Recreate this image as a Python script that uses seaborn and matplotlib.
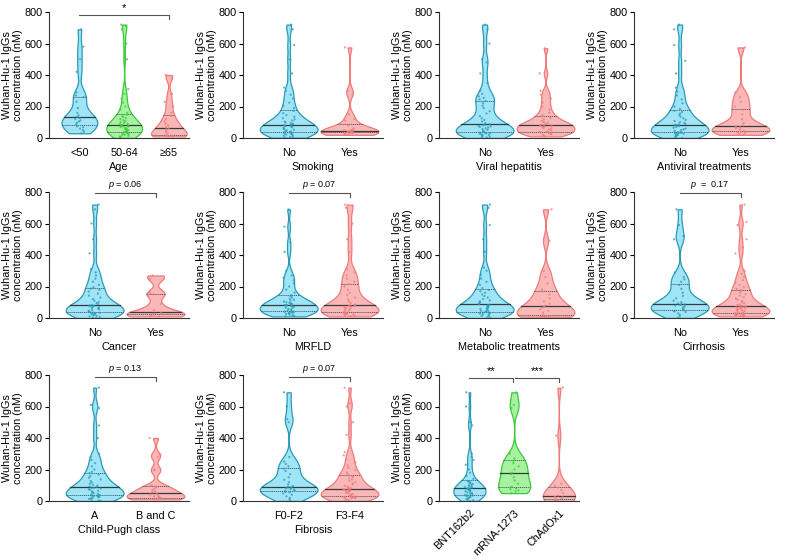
import numpy as np
import pandas as pd
import seaborn as sns
import matplotlib.pyplot as plt

# values (nM)
age_lt50 = [30, 40, 50, 60, 68, 73, 85, 95, 105, 112, 120, 127, 135, 145, 160, 190, 230, 260, 270, 290, 420, 500, 580, 690]
age_50_64 = [0, 5, 9, 13, 17, 21, 25, 28, 31, 34, 36, 38, 42, 46, 50, 54, 58, 62, 66, 70, 73, 76, 78, 79,
             83, 87, 91, 96, 101, 107, 113, 120, 127, 134, 141, 148, 160, 180, 200, 225, 250, 280, 310, 500, 600, 690, 710, 720]
age_ge65 = [10, 11, 12, 13, 14, 15, 20, 30, 40, 48, 56, 62, 70, 80, 92, 105, 120, 140, 160, 200, 230, 280, 380, 400]

smoke_no = [2, 6, 10, 14, 18, 22, 25, 28, 31, 34, 36, 38, 42, 45, 48, 52, 56, 60, 64, 68, 72, 76, 80, 83,
            87, 90, 94, 98, 104, 110, 118, 126, 135, 145, 158, 172, 190, 205, 225, 250, 275, 300, 320, 410, 500, 590, 690, 720]
smoke_yes = [20, 24, 27, 30, 32, 34, 36, 38, 40, 41, 43, 44, 46, 48, 50, 55, 62, 80, 112, 120, 150, 280, 300, 575]

hep_no = [0, 4, 8, 12, 16, 20, 23, 26, 29, 31, 33, 34, 38, 42, 47, 52, 57, 62, 66, 70, 74, 78, 81, 84,
          88, 95, 105, 115, 125, 140, 155, 170, 190, 205, 220, 235, 245, 255, 265, 280, 300, 350, 410, 480, 500, 600, 690, 720]
hep_yes = [10, 15, 20, 25, 28, 31, 34, 36, 38, 39, 42, 48, 54, 60, 64, 68, 71, 74, 77, 79,
           82, 85, 88, 92, 96, 102, 110, 118, 126, 136, 145, 160, 180, 200, 225, 250, 275, 300, 410, 570]

antiv_no = [0, 5, 10, 14, 18, 22, 25, 28, 30, 32, 33, 34, 37, 40, 45, 50, 55, 60, 65, 70, 75, 79, 82, 84,
            87, 90, 95, 100, 108, 115, 125, 135, 145, 155, 165, 172, 185, 200, 220, 245, 270, 295, 320, 410, 490, 590, 690, 720]
antiv_yes = [20, 28, 33, 37, 39, 45, 55, 62, 68, 73, 80, 95, 120, 150, 180, 200, 230, 260, 290, 575]

cancer_no = [0, 3, 7, 11, 15, 19, 23, 26, 29, 31, 33, 34, 38, 42, 46, 50, 55, 60, 64, 68, 72, 75, 77, 79,
             83, 88, 95, 102, 110, 120, 130, 142, 155, 168, 178, 186, 195, 210, 230, 250, 270, 290, 310, 410, 500, 600, 690, 720]
cancer_yes = [10, 15, 20, 25, 28, 32, 50, 90, 150, 160, 250, 270]

mrfld_no = [10, 14, 18, 22, 26, 29, 32, 34, 36, 38, 39, 40, 44, 48, 52, 57, 62, 66, 70, 74, 77, 80, 82, 83,
            86, 89, 92, 96, 100, 105, 110, 116, 122, 130, 138, 145, 160, 180, 200, 220, 240, 255, 270, 300, 420, 480, 580, 690]
mrfld_yes = [10, 14, 18, 22, 25, 28, 30, 32, 33, 34, 40, 46, 52, 58, 63, 67, 71, 74, 77, 79,
             85, 95, 105, 118, 130, 145, 160, 180, 200, 215, 230, 250, 270, 290, 310, 420, 500, 600, 700, 720]

metab_no = [0, 5, 10, 15, 19, 23, 27, 30, 33, 35, 37, 39, 42, 46, 50, 54, 58, 62, 66, 70, 74, 78, 81, 84,
            88, 92, 98, 105, 112, 120, 130, 140, 150, 160, 170, 178, 190, 210, 230, 250, 275, 300, 320, 420, 500, 590, 700, 720]
metab_yes = [8, 9, 10, 10, 11, 12, 20, 35, 45, 55, 65, 72, 80, 90, 105, 125, 150, 170, 180, 220, 260, 300, 490, 690]

cirr_no = [0, 10, 20, 30, 38, 42, 46, 49, 55, 62, 68, 74, 79, 83, 86, 87,
           92, 100, 110, 125, 140, 160, 185, 210, 230, 245, 260, 290, 500, 520, 590, 690]
cirr_yes = [10, 12, 14, 16, 18, 20, 22, 24, 25, 26, 27, 28, 29, 30, 33, 37, 41, 45, 49, 53, 57, 60, 63, 66, 69, 71, 73, 74,
            78, 82, 87, 93, 100, 108, 116, 124, 133, 142, 152, 162, 170, 178, 185, 195, 210, 225, 240, 260, 280, 300, 410, 450, 500, 590, 610, 720]

cp_a = [0, 4, 9, 13, 17, 21, 24, 27, 30, 32, 33, 34, 38, 42, 46, 50, 55, 60, 65, 70, 75, 79, 82, 84,
        88, 92, 97, 103, 110, 118, 127, 137, 148, 158, 168, 176, 185, 200, 220, 240, 260, 280, 300, 400, 480, 590, 610, 720]
cp_bc = [10, 12, 14, 16, 18, 19, 22, 26, 30, 36, 42, 48, 55, 62, 70, 78, 86, 92, 100, 195, 200, 280, 295, 400]

fib_f0f2 = [0, 10, 20, 30, 40, 48, 54, 58, 64, 68, 72, 76, 80, 84, 87, 89,
            95, 105, 120, 135, 150, 170, 190, 205, 220, 235, 250, 280, 500, 520, 600, 690]
fib_f3f4 = [0, 5, 9, 12, 15, 18, 20, 22, 24, 25, 26, 27, 28, 29, 32, 36, 40, 44, 48, 52, 56, 60, 63, 66, 69, 71, 73, 74,
            78, 82, 86, 92, 98, 105, 112, 120, 128, 136, 144, 152, 158, 163, 170, 180, 195, 210, 225, 245, 265, 290, 310, 420, 500, 600, 620, 720]

vac_bnt = [0, 5, 9, 13, 17, 21, 25, 28, 31, 34, 36, 38, 42, 46, 50, 54, 58, 62, 66, 70, 73, 76, 78, 79,
           82, 85, 88, 92, 96, 100, 104, 108, 113, 118, 123, 128, 140, 160, 180, 200, 230, 260, 280, 300, 480, 500, 600, 690]
vac_mrna = [50, 60, 68, 75, 79, 90, 110, 130, 150, 170, 180, 200, 220, 240, 255, 270, 300, 590, 610, 690]
vac_chad = [0, 3, 6, 9, 12, 18, 24, 28, 35, 50, 70, 85, 95, 110, 415, 720]

BLUE = ("#9fe4f7", "#2a9ab6")
GREEN = ("#a6f2a0", "#3cc83c")
RED = ("#f9b7b7", "#f07a7a")

plt.rcParams['font.family'] = ['Liberation Sans', 'DejaVu Sans']
plt.rcParams['mathtext.fontset'] = 'custom'
plt.rcParams['mathtext.it'] = 'Liberation Sans:italic'
plt.rcParams['mathtext.rm'] = 'Liberation Sans'


def violin_panel(ax, groups, names, cols, xlabel, vw=0.95, rotate=False):
    df = pd.DataFrame({
        "grp": np.concatenate([[n] * len(g) for n, g in zip(names, groups)]),
        "val": np.concatenate(groups),
    })
    fills = {n: c[0] for n, c in zip(names, cols)}
    edges = {n: c[1] for n, c in zip(names, cols)}
    sns.violinplot(data=df, x="grp", y="val", hue="grp", order=names, hue_order=names,
                   palette=fills, saturation=1, cut=0, bw_adjust=0.45, density_norm="area",
                   width=vw, inner="quart", linewidth=0.9, legend=False, ax=ax,
                   inner_kws=dict(color="#3d4a4f", linewidth=0.7))
    for coll, n in zip(ax.collections, names):
        coll.set_edgecolor(edges[n])
        coll.set_alpha(None)
    for i, ln in enumerate(ax.lines):
        if i % 3 == 1:
            ln.set_linestyle("-")
            ln.set_linewidth(0.9)
            ln.set_color("#333b3e")
        else:
            ln.set_alpha(0.8)
    sns.stripplot(data=df, x="grp", y="val", hue="grp", order=names, hue_order=names,
                  palette=edges, size=1.6, jitter=0.1, alpha=0.75, legend=False, ax=ax)
    ax.set_ylim(0, 800)
    ax.set_yticks([0, 200, 400, 600, 800])
    ax.set_ylabel("Wuhan-Hu-1 IgGs\nconcentration (nM)", fontsize=7.8, labelpad=1)
    ax.set_xlabel(xlabel, fontsize=7.8, labelpad=3)
    ax.tick_params(axis="y", labelsize=7.8, length=3, width=0.8, pad=1.5)
    ax.tick_params(axis="x", labelsize=7.8, length=0, pad=7)
    if rotate:
        ax.tick_params(axis="x", pad=5)
        plt.setp(ax.get_xticklabels(), rotation=45, ha="right", rotation_mode="anchor")
    for s in ["top", "right"]:
        ax.spines[s].set_visible(False)
    for s in ["left", "bottom"]:
        ax.spines[s].set_linewidth(0.8)
        ax.spines[s].set_color("#333333")


def bracket(ax, x0, x1, y, label, fs=6.5):
    ax.plot([x0, x1, x1], [y, y, y - 25], color="#555555", lw=0.8, clip_on=False)
    ax.text((x0 + x1) / 2, y + 12, label, ha="center", va="bottom", fontsize=fs, clip_on=False)


W, H = 787, 558
fig = plt.figure(figsize=(W / 100, H / 100), dpi=100)

col_left = [49, 243, 439, 634]
row_top = [12, 192, 375]
aw, ah = 140, 126


def make_ax(r, c):
    return fig.add_axes([col_left[c] / W, 1 - (row_top[r] + ah) / H, aw / W, ah / H])


two = [-0.75, 1.55]

ax = make_ax(0, 0)
violin_panel(ax, [age_lt50, age_50_64, age_ge65], ["<50", "50-64", "≥65"], [BLUE, GREEN, RED], "Age", vw=0.8)
ax.set_xlim(-0.68, 2.45)
bracket(ax, 0, 2, 782, "*", fs=8)

ax = make_ax(0, 1)
violin_panel(ax, [smoke_no, smoke_yes], ["No", "Yes"], [BLUE, RED], "Smoking")
ax.set_xlim(*two)

ax = make_ax(0, 2)
violin_panel(ax, [hep_no, hep_yes], ["No", "Yes"], [BLUE, RED], "Viral hepatitis")
ax.set_xlim(*two)

ax = make_ax(0, 3)
violin_panel(ax, [antiv_no, antiv_yes], ["No", "Yes"], [BLUE, RED], "Antiviral treatments")
ax.set_xlim(*two)

ax = make_ax(1, 0)
violin_panel(ax, [cancer_no, cancer_yes], ["No", "Yes"], [BLUE, RED], "Cancer")
ax.set_xlim(*two)
bracket(ax, 0, 1, 794, "$\\it{p}$ = 0.06")

ax = make_ax(1, 1)
violin_panel(ax, [mrfld_no, mrfld_yes], ["No", "Yes"], [BLUE, RED], "MRFLD")
ax.set_xlim(*two)
bracket(ax, 0, 1, 794, "$\\it{p}$ = 0.07")

ax = make_ax(1, 2)
violin_panel(ax, [metab_no, metab_yes], ["No", "Yes"], [BLUE, RED], "Metabolic treatments")
ax.set_xlim(*two)

ax = make_ax(1, 3)
violin_panel(ax, [cirr_no, cirr_yes], ["No", "Yes"], [BLUE, RED], "Cirrhosis")
ax.set_xlim(*two)
bracket(ax, 0, 1, 794, "$\\it{p}$  =  0.17")

ax = make_ax(2, 0)
violin_panel(ax, [cp_a, cp_bc], ["A", "B and C"], [BLUE, RED], "Child-Pugh class")
ax.set_xlim(*two)
bracket(ax, 0, 1, 790, "$\\it{p}$ = 0.13")

ax = make_ax(2, 1)
violin_panel(ax, [fib_f0f2, fib_f3f4], ["F0-F2", "F3-F4"], [BLUE, RED], "Fibrosis")
ax.set_xlim(*two)
bracket(ax, 0, 1, 790, "$\\it{p}$ = 0.07")

ax = make_ax(2, 2)
violin_panel(ax, [vac_bnt, vac_mrna, vac_chad], ["BNT162b2", "mRNA-1273", "ChAdOx1"],
             [BLUE, GREEN, RED], "", vw=0.72, rotate=True)
ax.set_xlim(-0.68, 2.45)
bracket(ax, 0, 0.98, 780, "**", fs=8)
bracket(ax, 1.02, 2, 780, "***", fs=8)

fig.savefig("out.png", dpi=100)
